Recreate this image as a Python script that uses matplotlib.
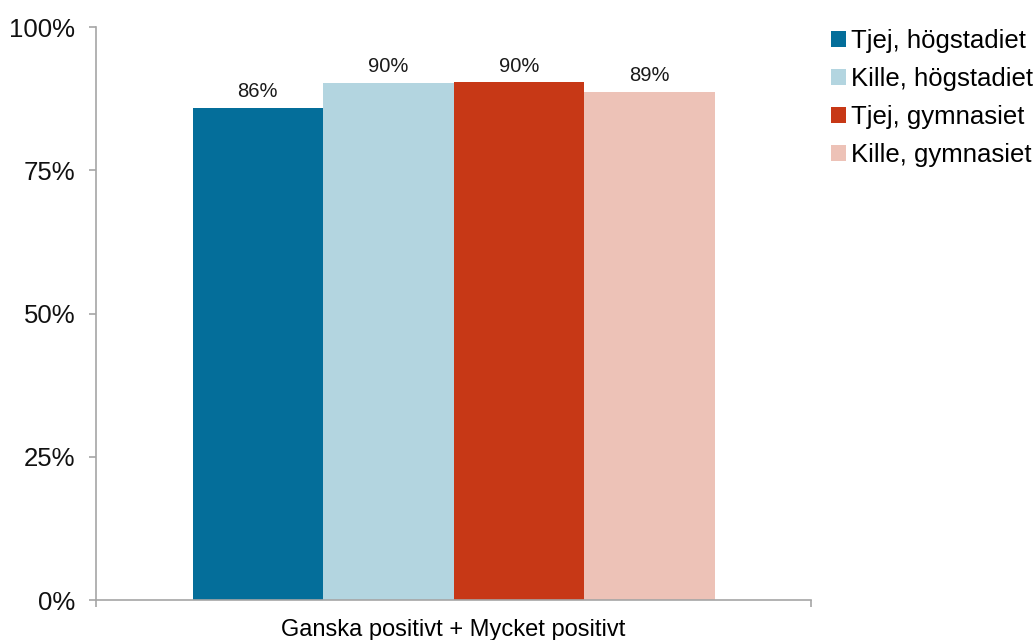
import numpy as np
import matplotlib.pyplot as plt

plt.rcParams['font.family'] = ['Liberation Sans', 'DejaVu Sans']

# data
category = 'Ganska positivt + Mycket positivt'
series = ['Tjej, högstadiet', 'Kille, högstadiet', 'Tjej, gymnasiet', 'Kille, gymnasiet']
values = [85.9, 90.3, 90.4, 88.7]
colors = ['#046E9A', '#B3D5E0', '#C73816', '#EDC2B7']
yticks = [0, 25, 50, 75, 100]

fig = plt.figure(figsize=(10.36, 6.4), dpi=100)
ax = fig.add_axes([0.0927, 0.0625, 0.6903, 0.8953])

w = 0.1825
offsets = (np.arange(len(series)) - (len(series) - 1) / 2) * w
for off, v, c, name in zip(offsets, values, colors, series):
    ax.bar(off, v, width=w, color=c, label=name, zorder=2)
    ax.text(off, v + 1.1, f'{v:.0f}%', ha='center', va='bottom', fontsize=14.5, color='#1a1a1a')

ax.set_xlim(-0.5, 0.5)
ax.set_ylim(0, 100)
ax.set_yticks(yticks)
ax.set_yticklabels([f'{t}%' for t in yticks], fontsize=18.5)
ax.set_xticks([-0.5, 0.5])
ax.set_xticklabels(['', ''])
ax.set_xlabel(category, fontsize=17, labelpad=5)

for s in ['top', 'right']:
    ax.spines[s].set_visible(False)
for s in ['left', 'bottom']:
    ax.spines[s].set_color('#A6A6A6')
    ax.spines[s].set_linewidth(1.2)
ax.tick_params(axis='both', colors='#A6A6A6', length=5, width=1.2, labelcolor='#111111')
ax.tick_params(axis='y', pad=10)

ax.legend(loc='upper left', bbox_to_anchor=(0.792, 0.971), bbox_transform=fig.transFigure,
          frameon=False, fontsize=18.5, handlelength=0.6, handleheight=0.6,
          handletextpad=0.2, labelspacing=0.55, borderaxespad=0)

fig.savefig('out.png', dpi=100)
